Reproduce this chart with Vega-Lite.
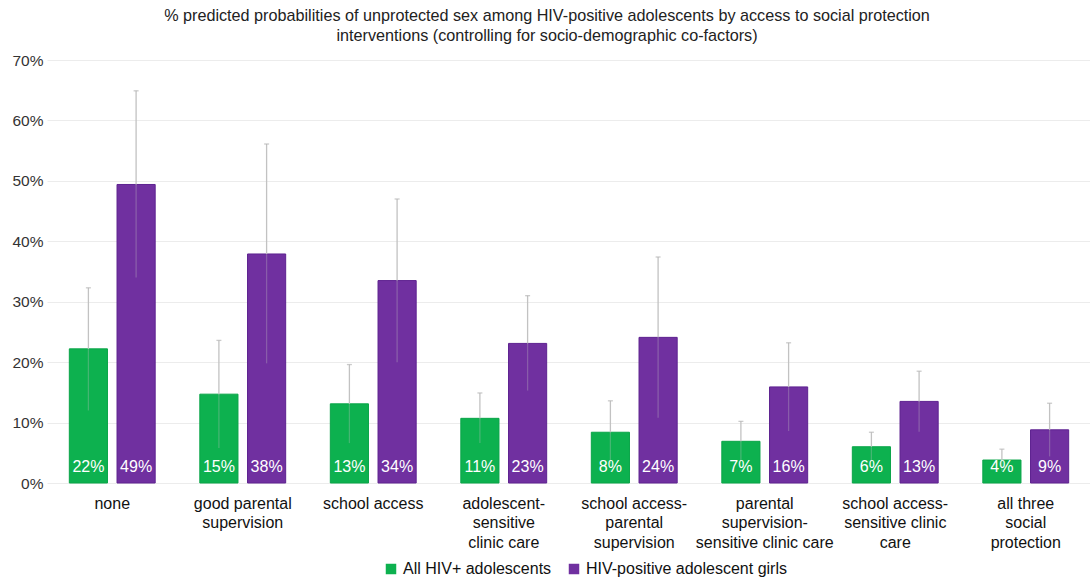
{
  "$schema": "https://vega.github.io/schema/vega-lite/v6.json",
  "width": 1044,
  "height": 423,
  "padding": {"left": 11, "top": 7, "right": 0, "bottom": 4},
  "background": "white",
  "config": {
    "font": "Liberation Sans",
    "view": {"stroke": null},
    "axis": {"labelFont": "Liberation Sans"}
  },
  "title": {
    "text": ["% predicted probabilities of unprotected sex among HIV-positive adolescents by access to social protection", "interventions (controlling for socio-demographic co-factors)"],
    "fontSize": 16.2,
    "fontWeight": "normal",
    "color": "#222222",
    "lineHeight": 20.5,
    "anchor": "middle",
    "dx": -22,
    "offset": 8.5
  },
  "data": {
    "values": [
      {"category": "none", "group": "All HIV+ adolescents", "value": 22.2, "lower": 12.0, "upper": 32.3, "label": "22%"},
      {"category": "none", "group": "HIV-positive adolescent girls", "value": 49.4, "lower": 34.0, "upper": 64.9, "label": "49%"},
      {"category": "good parental supervision", "group": "All HIV+ adolescents", "value": 14.7, "lower": 5.8, "upper": 23.6, "label": "15%"},
      {"category": "good parental supervision", "group": "HIV-positive adolescent girls", "value": 37.9, "lower": 19.8, "upper": 56.1, "label": "38%"},
      {"category": "school access", "group": "All HIV+ adolescents", "value": 13.1, "lower": 6.6, "upper": 19.6, "label": "13%"},
      {"category": "school access", "group": "HIV-positive adolescent girls", "value": 33.5, "lower": 20.0, "upper": 47.0, "label": "34%"},
      {"category": "adolescent-sensitive clinic care", "group": "All HIV+ adolescents", "value": 10.7, "lower": 6.6, "upper": 14.9, "label": "11%"},
      {"category": "adolescent-sensitive clinic care", "group": "HIV-positive adolescent girls", "value": 23.1, "lower": 15.3, "upper": 31.0, "label": "23%"},
      {"category": "school access-parental supervision", "group": "All HIV+ adolescents", "value": 8.4, "lower": 3.2, "upper": 13.6, "label": "8%"},
      {"category": "school access-parental supervision", "group": "HIV-positive adolescent girls", "value": 24.1, "lower": 10.8, "upper": 37.4, "label": "24%"},
      {"category": "parental supervision-sensitive clinic care", "group": "All HIV+ adolescents", "value": 6.9, "lower": 3.6, "upper": 10.2, "label": "7%"},
      {"category": "parental supervision-sensitive clinic care", "group": "HIV-positive adolescent girls", "value": 15.9, "lower": 8.6, "upper": 23.2, "label": "16%"},
      {"category": "school access-sensitive clinic care", "group": "All HIV+ adolescents", "value": 6.0, "lower": 3.6, "upper": 8.4, "label": "6%"},
      {"category": "school access-sensitive clinic care", "group": "HIV-positive adolescent girls", "value": 13.5, "lower": 8.5, "upper": 18.5, "label": "13%"},
      {"category": "all three social protection", "group": "All HIV+ adolescents", "value": 3.8, "lower": 2.0, "upper": 5.6, "label": "4%"},
      {"category": "all three social protection", "group": "HIV-positive adolescent girls", "value": 8.8, "lower": 4.4, "upper": 13.2, "label": "9%"}
    ]
  },
  "encoding": {
    "x": {
      "field": "category",
      "type": "nominal",
      "sort": null,
      "scale": {"paddingInner": 0.342, "paddingOuter": 0.171},
      "axis": {
        "title": null,
        "labelAngle": 0,
        "domain": false,
        "ticks": false,
        "labelFontSize": 16,
        "labelColor": "#111111",
        "labelPadding": 12,
        "labelLineHeight": 19.5,
        "labelLimit": 220,
        "labelExpr": "datum.value == 'good parental supervision' ? ['good parental', 'supervision'] : datum.value == 'adolescent-sensitive clinic care' ? ['adolescent-', 'sensitive', 'clinic care'] : datum.value == 'school access-parental supervision' ? ['school access-', 'parental', 'supervision'] : datum.value == 'parental supervision-sensitive clinic care' ? ['parental', 'supervision-', 'sensitive clinic care'] : datum.value == 'school access-sensitive clinic care' ? ['school access-', 'sensitive clinic', 'care'] : datum.value == 'all three social protection' ? ['all three', 'social', 'protection'] : datum.value"
      }
    },
    "xOffset": {
      "field": "group",
      "type": "nominal",
      "sort": ["All HIV+ adolescents", "HIV-positive adolescent girls"],
      "scale": {"paddingInner": 0.2, "paddingOuter": 0}
    }
  },
  "layer": [
    {
      "mark": {"type": "bar", "strokeWidth": 1},
      "encoding": {
        "y": {
          "field": "value",
          "type": "quantitative",
          "scale": {"domain": [0, 70]},
          "axis": {
            "title": null,
            "values": [0, 10, 20, 30, 40, 50, 60, 70],
            "labelExpr": "datum.value + '%'",
            "domain": false,
            "ticks": false,
            "labelFontSize": 15.5,
            "labelColor": "#333333",
            "labelPadding": 4,
            "gridColor": "#ececec",
            "gridWidth": 1
          }
        },
        "color": {
          "field": "group",
          "type": "nominal",
          "sort": ["All HIV+ adolescents", "HIV-positive adolescent girls"],
          "scale": {"range": ["#0db14f", "#7030a0"]},
          "legend": {
            "title": null,
            "orient": "none",
            "legendX": 336,
            "legendY": 501,
            "direction": "horizontal",
            "symbolType": "square",
            "symbolSize": 110,
            "labelFontSize": 16,
            "labelLimit": 400,
            "labelColor": "#111111",
            "columnPadding": 14
          }
        },
        "stroke": {
          "field": "group",
          "type": "nominal",
          "scale": {"range": ["#0aa548", "#5e2290"]},
          "legend": null
        }
      }
    },
    {
      "mark": {"type": "rule", "color": "#c2c2c2", "strokeWidth": 1.3},
      "encoding": {
        "y": {"field": "value", "type": "quantitative"},
        "y2": {"field": "upper"}
      }
    },
    {
      "mark": {"type": "rule", "color": "#c2c2c2", "strokeWidth": 1.3, "opacity": 0.3},
      "encoding": {
        "y": {"field": "lower", "type": "quantitative"},
        "y2": {"field": "value"}
      }
    },
    {
      "mark": {"type": "tick", "color": "#b5b5b5", "size": 5, "thickness": 1.3},
      "encoding": {
        "y": {"field": "upper", "type": "quantitative"}
      }
    },
    {
      "mark": {"type": "text", "color": "white", "fontSize": 16, "baseline": "middle", "dy": -16},
      "encoding": {
        "y": {"datum": 0, "type": "quantitative"},
        "text": {"field": "label"}
      }
    }
  ]
}
